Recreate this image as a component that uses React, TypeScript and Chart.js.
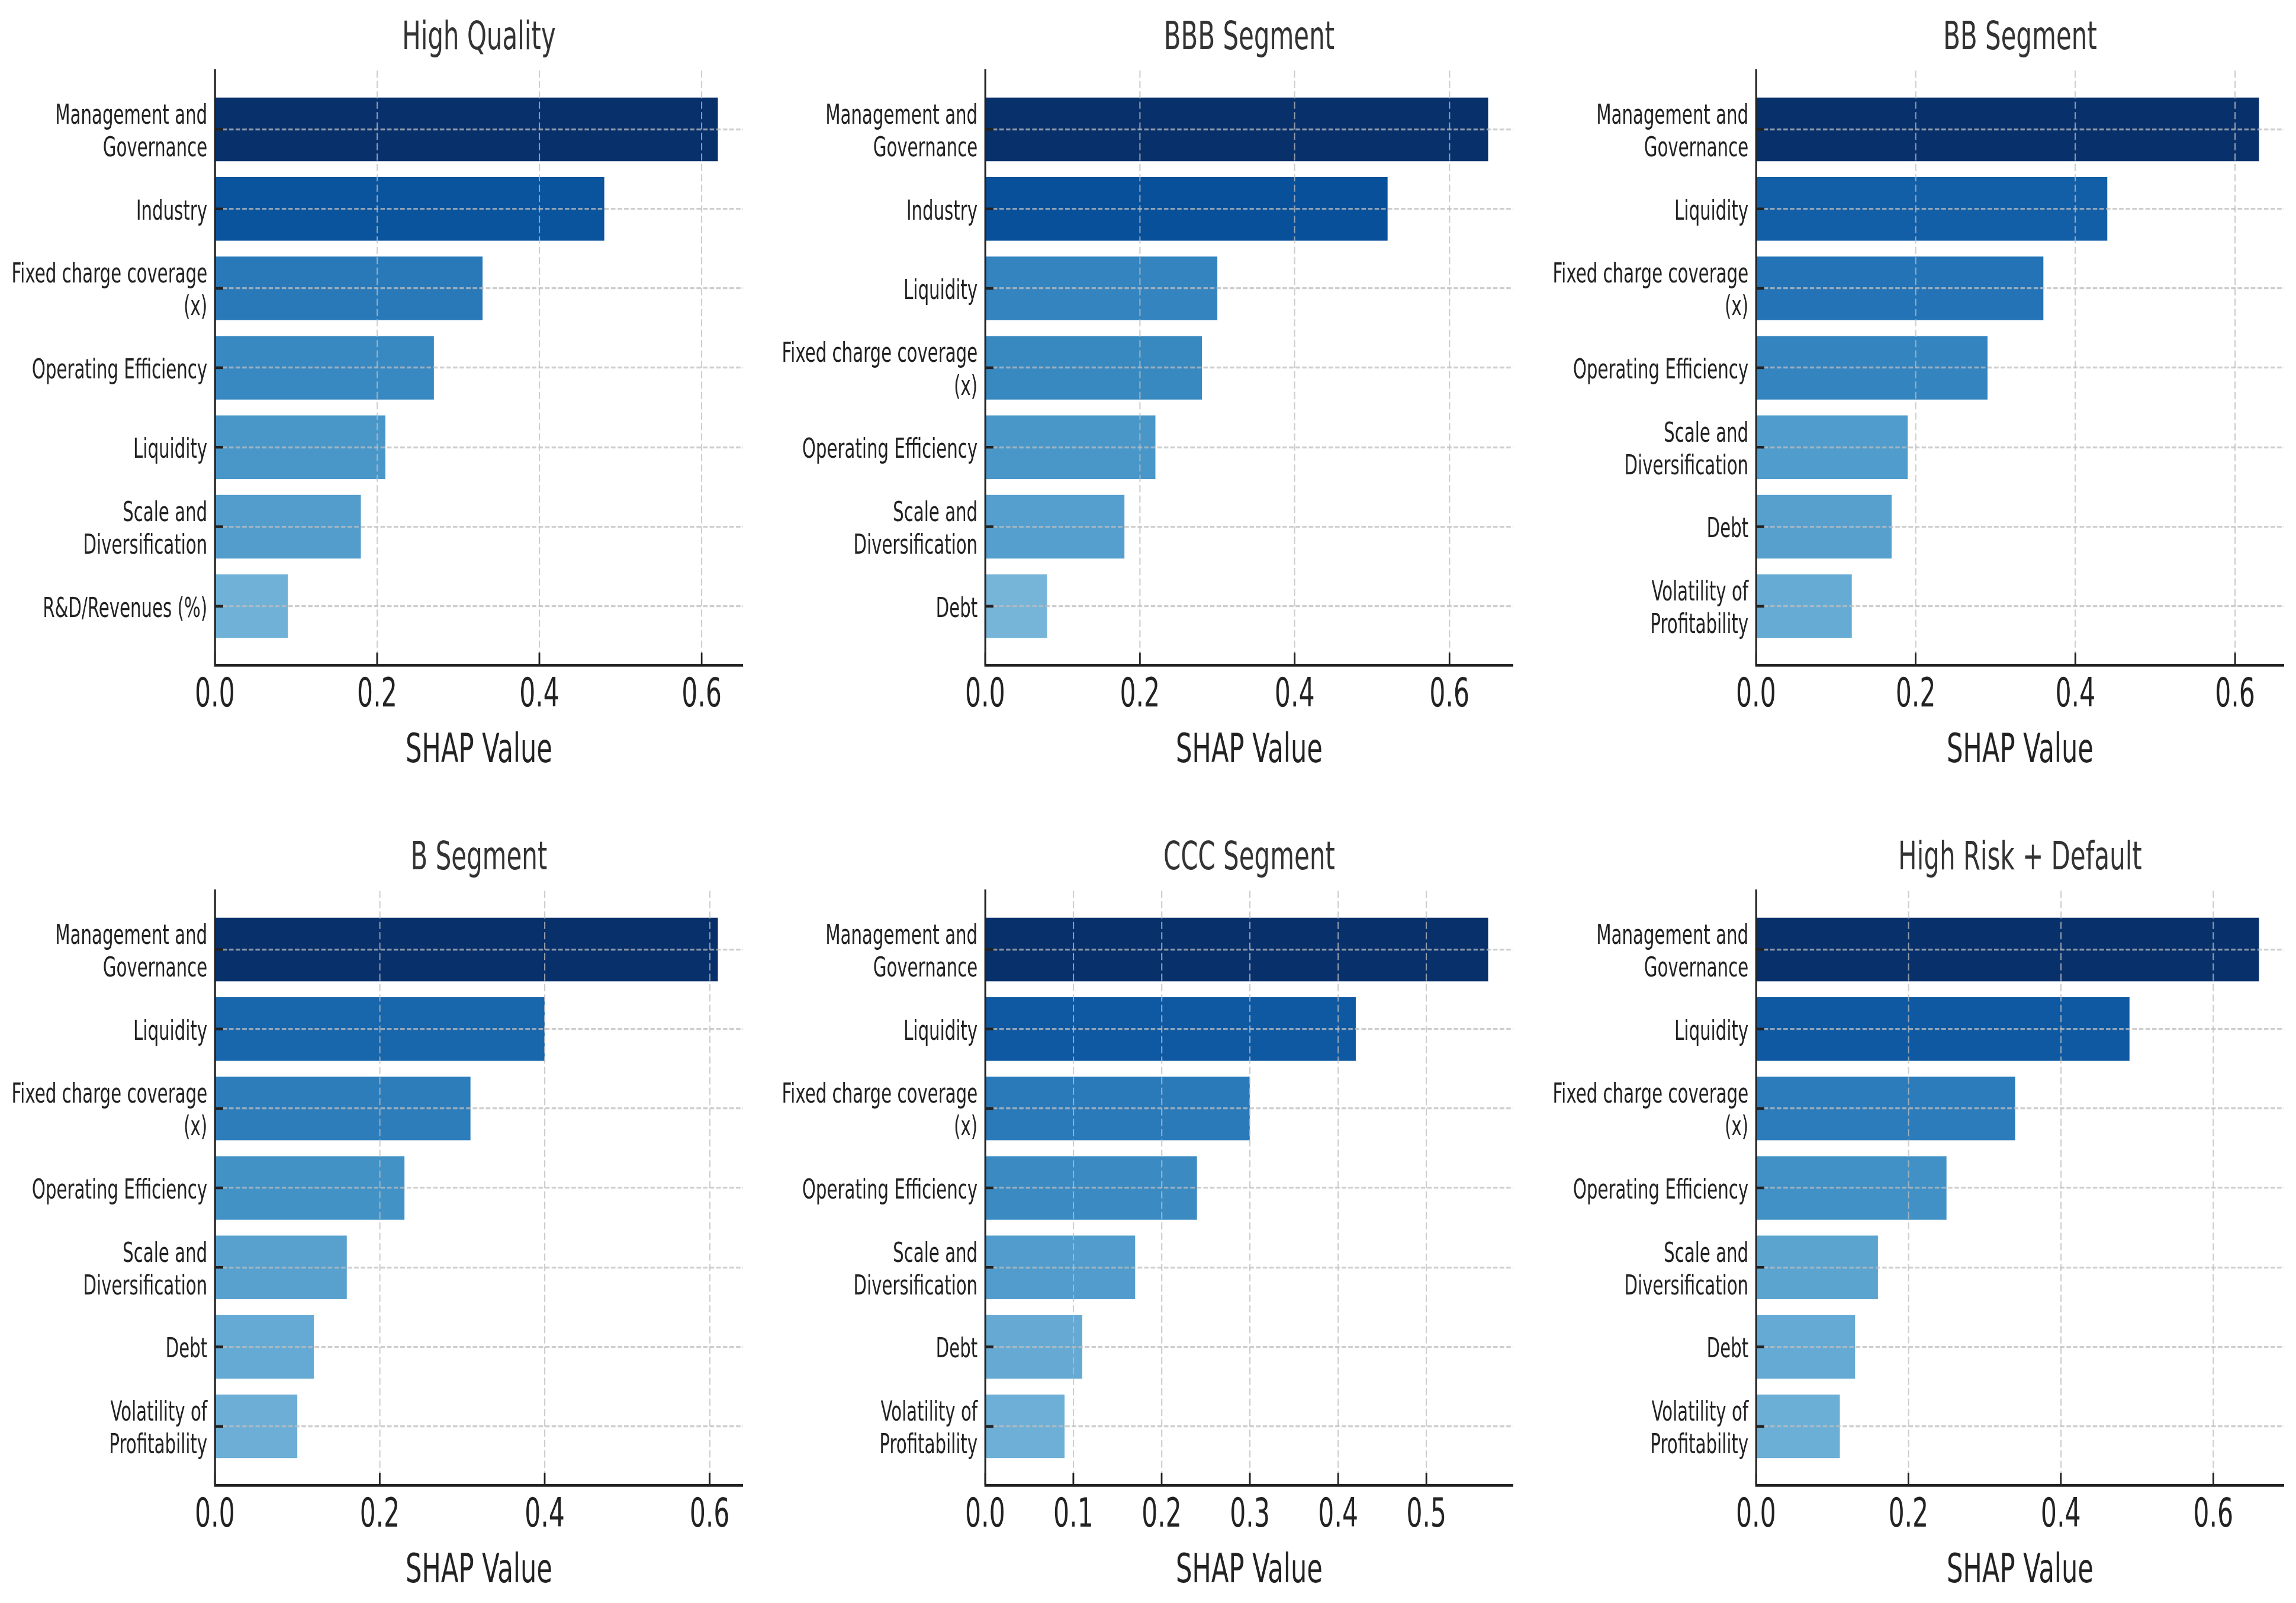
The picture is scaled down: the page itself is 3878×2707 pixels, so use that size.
import React, { useEffect, useRef } from 'react';
import { Chart, ChartConfiguration, Plugin } from 'chart.js/auto';

// the reference is horizontally squeezed, so charts are drawn wide and shrunk with css
const SQUISH = 0.635;
const FONT = 'DejaVu Sans';

const mg = 'Management and\nGovernance';
const fcc = 'Fixed charge coverage\n(x)';
const sd = 'Scale and\nDiversification';
const vp = 'Volatility of\nProfitability';

const hqLabels = [mg, 'Industry', fcc, 'Operating Efficiency', 'Liquidity', sd, 'R&D/Revenues (%)'];
const hqValues = [0.62, 0.48, 0.33, 0.27, 0.21, 0.18, 0.09];

const bbbLabels = [mg, 'Industry', 'Liquidity', fcc, 'Operating Efficiency', sd, 'Debt'];
const bbbValues = [0.65, 0.52, 0.30, 0.28, 0.22, 0.18, 0.08];

const bbLabels = [mg, 'Liquidity', fcc, 'Operating Efficiency', sd, 'Debt', vp];
const bbValues = [0.63, 0.44, 0.36, 0.29, 0.19, 0.17, 0.12];

const bLabels = [mg, 'Liquidity', fcc, 'Operating Efficiency', sd, 'Debt', vp];
const bValues = [0.61, 0.40, 0.31, 0.23, 0.16, 0.12, 0.10];

const cccLabels = [mg, 'Liquidity', fcc, 'Operating Efficiency', sd, 'Debt', vp];
const cccValues = [0.57, 0.42, 0.30, 0.24, 0.17, 0.11, 0.09];

const hrdLabels = [mg, 'Liquidity', fcc, 'Operating Efficiency', sd, 'Debt', vp];
const hrdValues = [0.66, 0.49, 0.34, 0.25, 0.16, 0.13, 0.11];

const panels = [
  { title: 'High Quality', labels: hqLabels, values: hqValues, step: 0.2, left: 363, top: 0 },
  { title: 'BBB Segment', labels: bbbLabels, values: bbbValues, step: 0.2, left: 1664, top: 0 },
  { title: 'BB Segment', labels: bbLabels, values: bbValues, step: 0.2, left: 2966, top: 0 },
  { title: 'B Segment', labels: bLabels, values: bValues, step: 0.2, left: 363, top: 1385 },
  { title: 'CCC Segment', labels: cccLabels, values: cccValues, step: 0.1, left: 1664, top: 1385 },
  { title: 'High Risk + Default', labels: hrdLabels, values: hrdValues, step: 0.2, left: 2966, top: 1385 },
];

const Y_AXIS_W = 560;
const PLOT_W = 1404;
const X_AXIS_H = 200;
const CANVAS_W = Y_AXIS_W + PLOT_W;
const CANVAS_H = 1323;

const bluesStops = ['#f7fbff', '#deebf7', '#c6dbef', '#9ecae1', '#6baed6', '#4292c6', '#2171b5', '#08519c', '#08306b'];

function blues(t: number): string {
  const p = Math.max(0, Math.min(1, t)) * 8;
  const i = Math.min(7, Math.floor(p));
  const f = p - i;
  const a = bluesStops[i];
  const b = bluesStops[i + 1];
  const ch = (s: string, k: number) => parseInt(s.slice(1 + k * 2, 3 + k * 2), 16);
  const c = [0, 1, 2].map(k => Math.round(ch(a, k) + (ch(b, k) - ch(a, k)) * f));
  return `rgb(${c[0]}, ${c[1]}, ${c[2]})`;
}

// matplotlib style ticks pointing into the plot
const inwardTicks: Plugin = {
  id: 'inwardTicks',
  afterDraw(chart) {
    const { ctx, chartArea, scales } = chart;
    ctx.save();
    ctx.strokeStyle = '#222';
    ctx.lineWidth = 4.5;
    ctx.setLineDash([]);
    ctx.beginPath();
    scales.x.ticks.forEach(t => {
      const px = scales.x.getPixelForValue(t.value);
      ctx.moveTo(px, chartArea.bottom);
      ctx.lineTo(px, chartArea.bottom - 21);
    });
    scales.y.ticks.forEach(t => {
      const py = scales.y.getPixelForValue(t.value);
      ctx.moveTo(chartArea.left, py);
      ctx.lineTo(chartArea.left + 22, py);
    });
    ctx.stroke();
    ctx.restore();
  },
};

interface PanelProps {
  title: string;
  labels: string[];
  values: number[];
  step: number;
  left: number;
  top: number;
}

const gridColor = 'rgba(190, 190, 190, 0.75)';

const ShapPanel: React.FC<PanelProps> = ({ title, labels, values, step, left, top }) => {
  const chartRef = useRef<HTMLCanvasElement>(null);
  const chartInstanceRef = useRef<Chart | null>(null);

  useEffect(() => {
    if (!chartRef.current) return;
    const ctx = chartRef.current.getContext('2d');
    if (!ctx) return;
    if (chartInstanceRef.current) chartInstanceRef.current.destroy();

    const maxVal = Math.max(...values);

    const config: ChartConfiguration = {
      type: 'bar',
      data: {
        datasets: [{
          data: values.map((v, i) => ({ x: v, y: i })),
          backgroundColor: values.map(v => blues(0.4 + 0.6 * v / maxVal)),
          borderWidth: 0,
          barPercentage: 0.8,
          categoryPercentage: 1,
        }],
      },
      options: {
        indexAxis: 'y',
        animation: false,
        responsive: false,
        layout: { padding: 0 },
        plugins: {
          legend: { display: false },
          tooltip: { enabled: false },
          title: {
            display: true,
            text: title,
            fullSize: false,
            color: '#333',
            font: { family: FONT, size: 66, weight: 'normal', lineHeight: 1.2 },
            padding: { top: 26, bottom: 14 },
          },
        },
        scales: {
          x: {
            type: 'linear',
            position: 'bottom',
            min: 0,
            max: maxVal * 1.05,
            ticks: {
              stepSize: step,
              includeBounds: false,
              autoSkip: false,
              maxRotation: 0,
              padding: 12,
              color: '#222',
              font: { family: FONT, size: 67, lineHeight: 1.2 },
              callback: v => Number(v).toFixed(1),
            },
            grid: { color: gridColor, lineWidth: 3.3, drawTicks: false, z: 1 },
            border: { display: true, color: '#222', width: 4.8, dash: [12, 5.5], z: 2 },
            title: {
              display: true,
              text: 'SHAP Value',
              color: '#222',
              font: { family: FONT, size: 68, lineHeight: 1.2 },
              padding: { top: 0, bottom: 13 },
            },
            afterFit: s => {
              s.height = X_AXIS_H;
              s.paddingLeft = 0;
              s.paddingRight = 0;
            },
          },
          y: {
            type: 'linear',
            min: -0.74,
            max: 6.74,
            reverse: true,
            offset: false,
            ticks: {
              stepSize: 1,
              includeBounds: false,
              autoSkip: false,
              padding: 20,
              labelOffset: 6,
              color: '#222',
              font: { family: FONT, size: 46, lineHeight: 1.2 },
              callback: v => {
                const lab = labels[Number(v)];
                return lab ? lab.split('\n') : '';
              },
            },
            grid: { color: gridColor, lineWidth: 3.3, drawTicks: false, offset: false, z: 1 },
            border: { display: true, color: '#222', width: 4.8, dash: [12, 5.5], z: 2 },
            afterFit: s => {
              s.width = Y_AXIS_W;
              s.paddingTop = 0;
              s.paddingBottom = 0;
            },
          },
        },
      },
      plugins: [inwardTicks],
    };

    chartInstanceRef.current = new Chart(ctx, config);

    return () => {
      if (chartInstanceRef.current) {
        chartInstanceRef.current.destroy();
        chartInstanceRef.current = null;
      }
    };
  }, [title, labels, values, step]);

  return (
    <canvas
      ref={chartRef}
      width={CANVAS_W}
      height={CANVAS_H}
      style={{
        position: 'absolute',
        left: `${left - Y_AXIS_W * SQUISH}px`,
        top: `${top}px`,
        width: `${CANVAS_W * SQUISH}px`,
        height: `${CANVAS_H}px`,
      }}
    ></canvas>
  );
};

const App: React.FC = () => {
  return (
    <div
      style={{
        position: 'fixed',
        left: 0,
        top: 0,
        width: '3878px',
        height: '2707px',
        overflow: 'hidden',
        background: '#ffffff',
      }}
    >
      {panels.map(p => (
        <ShapPanel key={p.title} {...p} />
      ))}
    </div>
  );
};

export default App;
